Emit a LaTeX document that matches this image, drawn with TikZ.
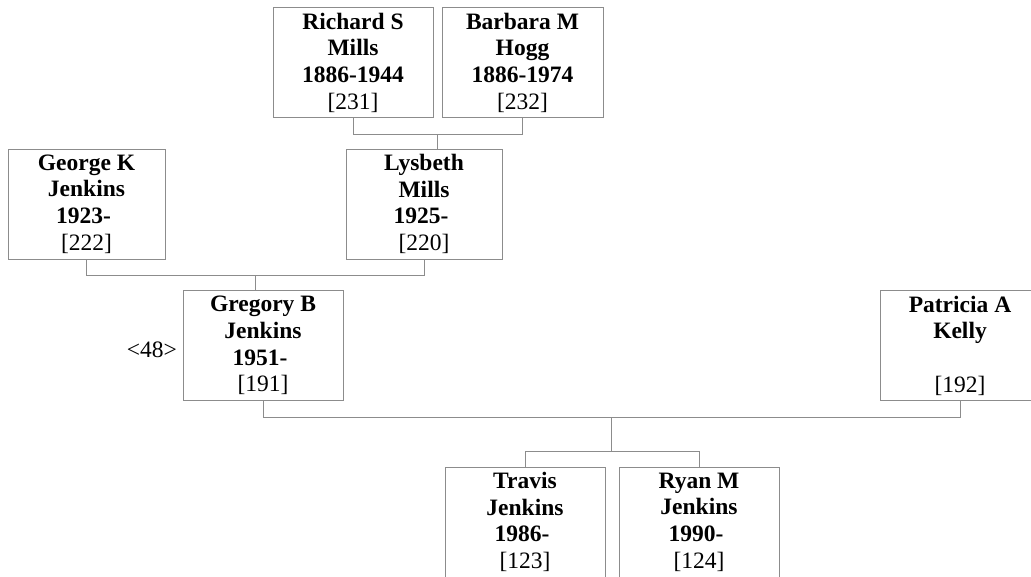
\documentclass[tikz,border=0pt]{standalone}
\usepackage{fontspec}
\setmainfont{Liberation Serif}
\usetikzlibrary{calc}
\newcommand{\rid}[1]{\mbox{[#1]}}
\begin{document}
\begin{tikzpicture}[x=1pt,y=-1pt,
  person/.style={draw=black!45, line width=1pt, minimum width=160pt, minimum height=110pt,
    inner sep=0pt, align=center, font=\fontsize{23.5}{26.7}\selectfont},
  link/.style={draw=black!45, line width=1pt}]
\useasboundingbox (0,0) rectangle (1031,576);
\node[person] (richard) at (353,62.5) {\textbf{Richard S}\\\textbf{Mills}\\\textbf{1886-1944}\\\rid{231}};
\node[person, minimum width=161pt] (barbara) at (522.5,62.5) {\textbf{Barbara M}\\\textbf{Hogg}\\\textbf{1886-1974}\\\rid{232}};
\node[person, minimum width=157pt] (george) at (86.5,204) {\textbf{George K}\\\textbf{Jenkins}\\\textbf{1923-}\kern6pt\\\rid{222}};
\node[person, minimum width=156pt] (lysbeth) at (424,204) {\textbf{Lysbeth}\\\textbf{Mills}\\\textbf{1925-}\kern6pt\\\rid{220}};
\node[person] (gregory) at (263,345.5) {\textbf{Gregory B}\\\textbf{Jenkins}\\\textbf{1951-}\kern6pt\\\rid{191}};
\node[person] (patricia) at (960,345.5) {\textbf{Patricia A}\\\textbf{Kelly}\\\mbox{}\\\rid{192}};
\node[person] (travis) at (525,522) {\textbf{Travis}\\\textbf{Jenkins}\\\textbf{1986-}\kern6pt\\\rid{123}};
\node[person] (ryan) at (699,522) {\textbf{Ryan M}\\\textbf{Jenkins}\\\textbf{1990-}\kern6pt\\\rid{124}};
\node[anchor=base east, inner sep=0pt, font=\fontsize{23.5}{26.7}\selectfont] (n48) at (177,357) {<48>};
% parents of Lysbeth
\draw[link] (richard.south) -- ++(0,16) -| (barbara.south);
\coordinate (m1) at ($(richard.south)!0.5!(barbara.south)+(0,16)$);
\draw[link] (m1) -- (m1 |- lysbeth.north);
% parents of Gregory
\draw[link] (george.south) -- ++(0,16) -| (lysbeth.south);
\coordinate (m2) at ($(george.south)!0.5!(lysbeth.south)+(0,16)$);
\draw[link] (m2) -- (m2 |- gregory.north);
% children of Gregory and Patricia
\draw[link] (gregory.south) -- ++(0,16) -| (patricia.south);
\coordinate (m3) at ($(gregory.south)!0.5!(patricia.south)+(0,16)$);
\coordinate (m4) at ($(m3)+(0,34)$);
\draw[link] (m3) -- (m4);
\draw[link] (travis.north |- m4) -- (ryan.north |- m4);
\draw[link] (travis.north |- m4) -- (travis.north);
\draw[link] (ryan.north |- m4) -- (ryan.north);
\end{tikzpicture}
\end{document}
